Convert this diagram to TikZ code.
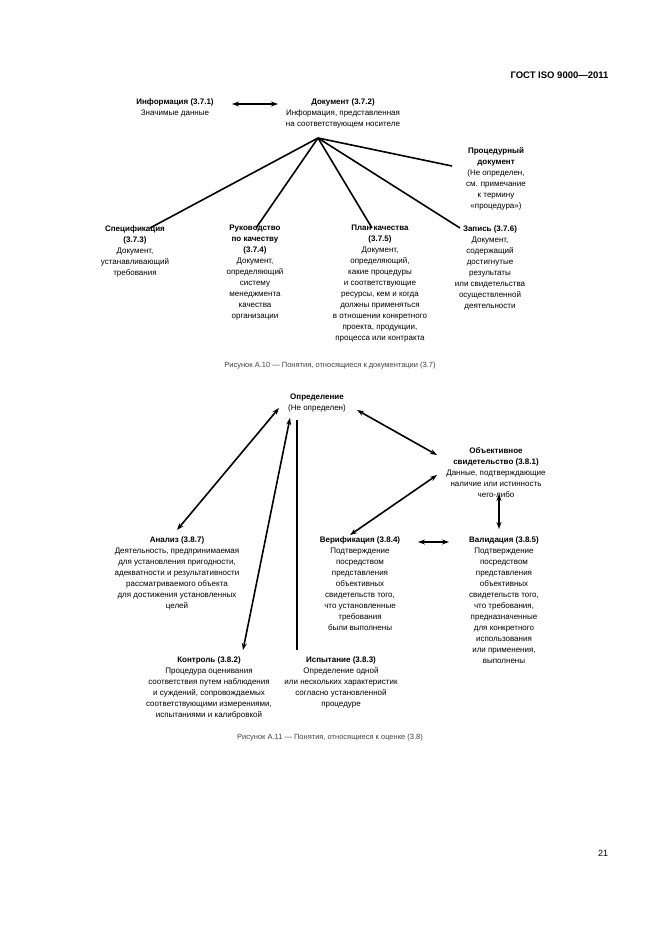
\documentclass[tikz,border=0pt]{standalone}
\usepackage{fontspec}
\setmainfont{Liberation Sans}
\usetikzlibrary{arrows.meta}
\begin{document}
\begin{tikzpicture}[x=1pt,y=-1pt,
  box/.style={align=center,anchor=north,inner sep=0pt,font=\fontsize{8}{11}\selectfont},
  con/.style={line width=1.6pt},
  dar/.style={con,{Stealth[length=7pt,width=5pt]}-{Stealth[length=7pt,width=5pt]}},
  capt/.style={font=\fontsize{7.5}{9}\selectfont,text=black!75}]
\useasboundingbox (0,0) rectangle (661,935);
\node[anchor=east,font=\bfseries\fontsize{9.5}{11}\selectfont] (hdr) at (612,75) {ГОСТ ISO 9000—2011};
% --- Figure A.10
\node[box] (inf) at (175,98) {\textbf{Информация (3.7.1)}\\Значимые данные};
\node[box] (doc) at (343,98) {\textbf{Документ (3.7.2)}\\Информация, представленная\\на соответствующем носителе};
\coordinate (hub) at (318,138);
\node[box] (proc) at (496,147) {\textbf{Процедурный}\\\textbf{документ}\\(Не определен,\\см. примечание\\к термину\\«процедура»)};
\node[box] (spec) at (135,225) {\textbf{Спецификация}\\\textbf{(3.7.3)}\\Документ,\\устанавливающий\\требования};
\node[box] (man) at (255,225) {\textbf{Руководство}\\\textbf{по качеству}\\\textbf{(3.7.4)}\\Документ,\\определяющий\\систему\\менеджмента\\качества\\организации};
\node[box] (plan) at (380,225) {\textbf{План качества}\\\textbf{(3.7.5)}\\Документ,\\определяющий,\\какие процедуры\\и соответствующие\\ресурсы, кем и когда\\должны применяться\\в отношении конкретного\\проекта, продукции,\\процесса или контракта};
\node[box] (rec) at (490,225) {\textbf{Запись (3.7.6)}\\Документ,\\содержащий\\достигнутые\\результаты\\или свидетельства\\осуществленной\\деятельности};
\draw[dar] (232,104) -- (278,104);
\draw[con] (hub) -- (150,228);
\draw[con] (hub) -- (256,228);
\draw[con] (hub) -- (372,228);
\draw[con] (hub) -- (460,228);
\draw[con] (hub) -- (452,166);
\node[capt] (c10) at (330,366) {Рисунок А.10 — Понятия, относящиеся к документации (3.7)};
% --- Figure A.11
\node[box] (opr) at (317,394) {\textbf{Определение}\\(Не определен)};
\node[box] (obj) at (496,447) {\textbf{Объективное}\\\textbf{свидетельство (3.8.1)}\\Данные, подтверждающие\\наличие или истинность\\чего-либо};
\node[box] (ana) at (177,536) {\textbf{Анализ (3.8.7)}\\Деятельность, предпринимаемая\\для установления пригодности,\\адекватности и результативности\\рассматриваемого объекта\\для достижения установленных\\целей};
\node[box] (ver) at (360,536) {\textbf{Верификация (3.8.4)}\\Подтверждение\\посредством\\представления\\объективных\\свидетельств того,\\что установленные\\требования\\были выполнены};
\node[box] (val) at (504,536) {\textbf{Валидация (3.8.5)}\\Подтверждение\\посредством\\представления\\объективных\\свидетельств того,\\что требования,\\предназначенные\\для конкретного\\использования\\или применения,\\выполнены};
\node[box] (kon) at (209,656) {\textbf{Контроль (3.8.2)}\\Процедура оценивания\\соответствия путем наблюдения\\и суждений, сопровождаемых\\соответствующими измерениями,\\испытаниями и калибровкой};
\node[box] (isp) at (341,656) {\textbf{Испытание (3.8.3)}\\Определение одной\\или нескольких характеристик\\согласно установленной\\процедуре};
\draw[dar] (279,408) -- (177,530);
\draw[dar] (290,418) -- (243,650);
\draw[con] (297,420) -- (297,650);
\draw[dar] (357,410) -- (437,455);
\draw[dar] (437,475) -- (350,535);
\draw[dar] (499,494) -- (499,529);
\draw[dar] (418,542) -- (449,542);
\node[capt] (c11) at (330,738) {Рисунок А.11 — Понятия, относящиеся к оценке (3.8)};
\node[font=\fontsize{9}{11}\selectfont] (pg) at (603,853) {21};
\end{tikzpicture}
\end{document}
